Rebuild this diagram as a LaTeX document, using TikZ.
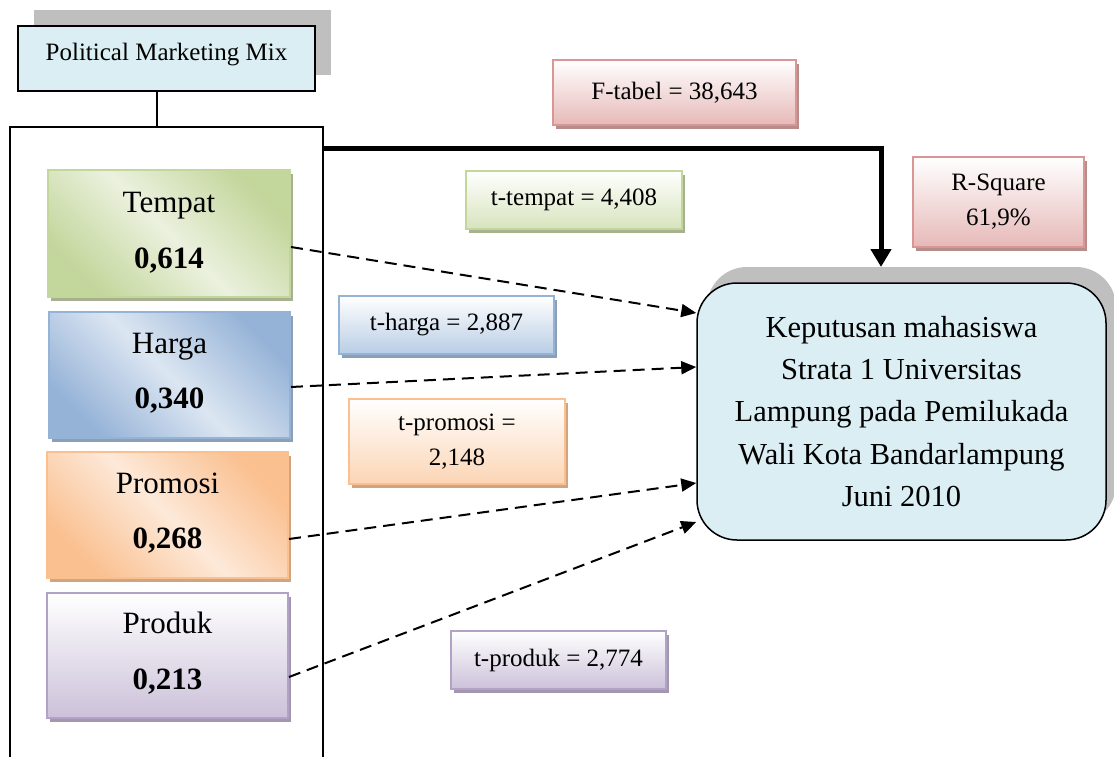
\documentclass[tikz,border=0pt]{standalone}
\usepackage{fontspec}
\setmainfont{Liberation Serif}
\usetikzlibrary{arrows.meta,shadows}
\definecolor{pmmfill}{HTML}{DAEEF3}
\definecolor{shadowgray}{HTML}{BFBFBF}
\definecolor{gDark}{HTML}{C3D69B}
\definecolor{gLight}{HTML}{EBF1DE}
\definecolor{gShadow}{HTML}{A7B18F}
\definecolor{gSmall}{HTML}{D7E4BD}
\definecolor{bDark}{HTML}{95B3D7}
\definecolor{bLight}{HTML}{DCE6F2}
\definecolor{bShadow}{HTML}{8D9FB5}
\definecolor{bSmall}{HTML}{B9CDE5}
\definecolor{oDark}{HTML}{FAC090}
\definecolor{oLight}{HTML}{FDE9D9}
\definecolor{oShadow}{HTML}{D0A47F}
\definecolor{oSmall}{HTML}{FCD5B5}
\definecolor{pDark}{HTML}{CCC1DA}
\definecolor{pBorder}{HTML}{B3A2C7}
\definecolor{pShadow}{HTML}{A397AE}
\definecolor{rDark}{HTML}{E6B9B8}
\definecolor{rBorder}{HTML}{D99694}
\definecolor{rShadow}{HTML}{B78D8C}
\tikzset{
  cbox/.style={rectangle, inner sep=0pt, line width=2pt},
  shad/.style={drop shadow={shadow xshift=3pt,shadow yshift=-4pt,fill=#1,opacity=1}},
  diag/.style 2 args={top color=#1, bottom color=#1, middle color=#2, shading angle=-45},
  vert/.style={top color=white, bottom color=#1},
  bigtxt/.style={font=\fontsize{31}{37}\selectfont, inner sep=0pt},
  smalltxt/.style={font=\fontsize{25}{35}\selectfont, align=center},
  dasharrow/.style={line width=2pt, dash pattern=on 12pt off 7pt, -{Triangle[length=15pt,width=13pt]}},
  thickarrow/.style={line width=5pt, -{Triangle[length=18pt,width=20pt]}},
}
\begin{document}
\begin{tikzpicture}[x=1pt,y=-1pt]
\useasboundingbox (0,0) rectangle (1114,757);
\clip (0,0) rectangle (1114,757);
% Political Marketing Mix
\node[rectangle, draw=black, line width=2pt, fill=pmmfill, inner sep=0pt,
      minimum width=297pt, minimum height=65pt,
      drop shadow={shadow xshift=16pt,shadow yshift=16pt,fill=shadowgray,opacity=1}] (pmm) at (166.5,58.5) {};
\node[font=\fontsize{25}{30}\selectfont, anchor=base, inner sep=0pt] (pmmtxt) at (166.5,61) {Political Marketing Mix};
% outer frame
\node[rectangle, draw=black, line width=2pt, inner sep=0pt, minimum width=313pt, minimum height=660pt] (mix) at (166.5,457) {};
\draw[line width=1.5pt] ([xshift=-9.5pt]pmm.south) -- ([xshift=-9.5pt]pmm.south |- mix.north);
% variable boxes
\node[cbox, draw=gDark, diag={gDark}{gLight}, shad=gShadow, minimum width=242pt, minimum height=127pt] (tempat) at (169,233.5) {};
\node[bigtxt, anchor=base] (tempatT) at (169,212) {Tempat};
\node[bigtxt, anchor=base] (tempatN) at (169,268) {\textbf{0,614}};
\node[cbox, draw=bDark, diag={bDark}{bLight}, shad=bShadow, minimum width=241pt, minimum height=126pt] (harga) at (169.5,375) {};
\node[bigtxt, anchor=base] (hargaT) at (169.5,353) {Harga};
\node[bigtxt, anchor=base] (hargaN) at (169.5,408) {\textbf{0,340}};
\node[cbox, draw=oDark, diag={oDark}{oLight}, shad=oShadow, minimum width=241pt, minimum height=126pt] (promosi) at (167.5,515) {};
\node[bigtxt, anchor=base] (promosiT) at (167.5,493) {Promosi};
\node[bigtxt, anchor=base] (promosiN) at (167.5,548) {\textbf{0,268}};
\node[cbox, draw=pBorder, vert=pDark, shad=pShadow, minimum width=241pt, minimum height=125pt] (produk) at (167.5,655.5) {};
\node[bigtxt, anchor=base] (produkT) at (167.5,633) {Produk};
\node[bigtxt, anchor=base] (produkN) at (167.5,689) {\textbf{0,213}};
% statistic labels
\node[cbox, smalltxt, draw=rBorder, vert=rDark, shad=rShadow, minimum width=243pt, minimum height=65pt] (ftabel) at (674.5,92.5) {F-tabel = 38,643};
\node[cbox, smalltxt, draw=rBorder, vert=rDark, shad=rShadow, minimum width=171pt, minimum height=90pt] (rsq) at (998.5,202) {R-Square\\61,9\%};
\node[cbox, smalltxt, draw=gDark, vert=gSmall, shad=gShadow, minimum width=216pt, minimum height=58pt] (ttempat) at (574,200) {t-tempat = 4,408};
\node[cbox, smalltxt, draw=bDark, vert=bSmall, shad=bShadow, minimum width=215pt, minimum height=58pt] (tharga) at (446.5,325) {t-harga = 2,887};
\node[cbox, smalltxt, draw=oDark, vert=oSmall, shad=oShadow, minimum width=216pt, minimum height=85pt] (tpromosi) at (457,441.5) {t-promosi =\\2,148};
\node[cbox, smalltxt, draw=pBorder, vert=pDark, shad=pShadow, minimum width=215pt, minimum height=58pt] (tproduk) at (558.5,660) {t-produk = 2,774};
% decision box
\node[rectangle, rounded corners=40pt, draw=black, line width=1.5pt, fill=pmmfill, inner sep=0pt,
      minimum width=409pt, minimum height=257pt, align=center,
      font=\fontsize{30.5}{42.3}\selectfont,
      drop shadow={shadow xshift=10pt,shadow yshift=16pt,fill=shadowgray,opacity=1}] (kep) at (901.5,411.5)
  {Keputusan mahasiswa\\Strata 1 Universitas\\Lampung pada Pemilukada\\Wali Kota Bandarlampung\\Juni 2010};
% connectors
\coordinate (ktop) at (881,267);
\draw[thickarrow] (mix.north east) ++(0,23) -| (ktop);
\draw[dasharrow] ([yshift=-13.5pt]tempat.east) -- ([yshift=98.5pt]kep.west);
\draw[dasharrow] ([yshift=-12pt]harga.east) -- ([yshift=44.5pt]kep.west);
\draw[dasharrow] ([yshift=-24pt]promosi.east) -- ([yshift=-71.5pt]kep.west);
\draw[dasharrow] ([yshift=-21.5pt]produk.east) -- ([yshift=-110.5pt]kep.west);
\end{tikzpicture}
\end{document}
